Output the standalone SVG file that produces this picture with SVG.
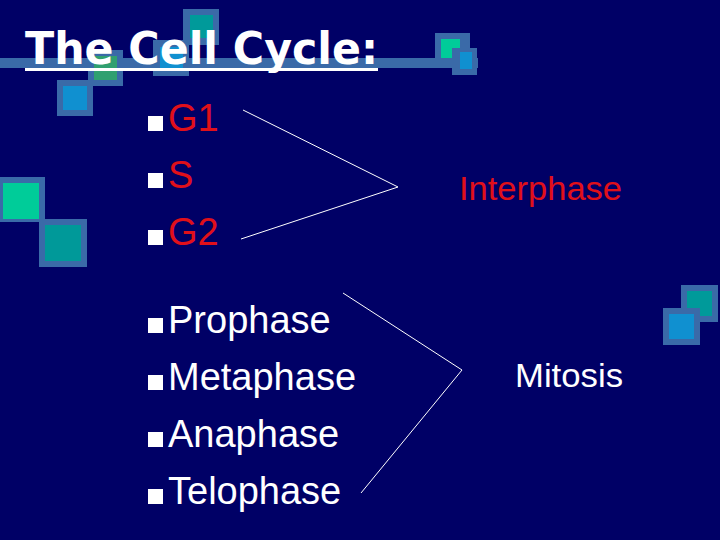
<svg xmlns="http://www.w3.org/2000/svg" width="720" height="540" viewBox="0 0 720 540">
<style>
.sq{fill:#3a6aa8}
.t{font-family:"Liberation Sans",Arial,sans-serif;font-size:38px}
.b{fill:#fff}
</style>
<rect width="720" height="540" fill="#000066"/>
<g id="decor">
<rect x="0" y="58" width="478" height="10" class="sq"/>
<rect x="183" y="9" width="36" height="36" class="sq"/><rect x="190" y="15" width="23" height="23" fill="#009a9a"/>
<rect x="153" y="40" width="36" height="36" class="sq"/><rect x="160" y="47" width="23" height="23" fill="#1090d0"/>
<rect x="88" y="50" width="35" height="36" class="sq"/><rect x="94" y="56" width="23" height="24" fill="#30a070"/>
<rect x="57" y="80" width="36" height="36" class="sq"/><rect x="63" y="86" width="24" height="24" fill="#1090d0"/>
<rect x="0" y="177" width="45" height="45" class="sq"/><rect x="3" y="183" width="36" height="36" fill="#00cc99"/>
<rect x="39" y="219" width="48" height="48" class="sq"/><rect x="45" y="225" width="36" height="36" fill="#009999"/>
<rect x="435" y="33" width="35" height="35" class="sq"/><rect x="441" y="39" width="19" height="19" fill="#00cc99"/>
<rect x="452" y="48" width="25" height="27" class="sq"/><rect x="460" y="52" width="12" height="17" fill="#1090d0"/>
<rect x="681" y="285" width="37" height="37" class="sq"/><rect x="687" y="291" width="25" height="25" fill="#009a9a"/>
<rect x="663" y="308" width="37" height="37" class="sq"/><rect x="669" y="314" width="25" height="25" fill="#1090d0"/>
</g>
<g id="title"><text x="25" y="64" font-family="DejaVu Sans,Verdana,sans-serif" font-weight="bold" font-size="44" fill="#fff" textLength="353" lengthAdjust="spacingAndGlyphs">The Cell Cycle:</text><rect x="25" y="68" width="353" height="3" fill="#fff"/></g>
<g id="phases-interphase" class="t" fill="#e0101a">
<rect x="148" y="116" width="15" height="15" class="b"/><text x="168" y="131">G1</text>
<rect x="148" y="173" width="15" height="15" class="b"/><text x="168" y="188">S</text>
<rect x="148" y="230" width="15" height="15" class="b"/><text x="168" y="245">G2</text>
</g>
<g id="phases-mitosis" class="t" fill="#fff">
<rect x="148" y="318" width="15" height="15"/><text x="168" y="333">Prophase</text>
<rect x="148" y="375" width="15" height="15"/><text x="168" y="390">Metaphase</text>
<rect x="148" y="432" width="15" height="15"/><text x="168" y="447">Anaphase</text>
<rect x="148" y="489" width="15" height="15"/><text x="168" y="504">Telophase</text>
</g>
<g id="connectors" fill="none" stroke="#fff" stroke-width="1">
<polyline points="243,110 398,187 241,239"/>
<polyline points="343,293 462,370 361,493"/>
</g>
<g id="labels" font-family="Liberation Sans,Arial,sans-serif" font-size="34">
<text x="459" y="200" fill="#e0101a" textLength="163" lengthAdjust="spacingAndGlyphs">Interphase</text>
<text x="515" y="387" fill="#fff" textLength="108" lengthAdjust="spacingAndGlyphs">Mitosis</text>
</g>
</svg>
